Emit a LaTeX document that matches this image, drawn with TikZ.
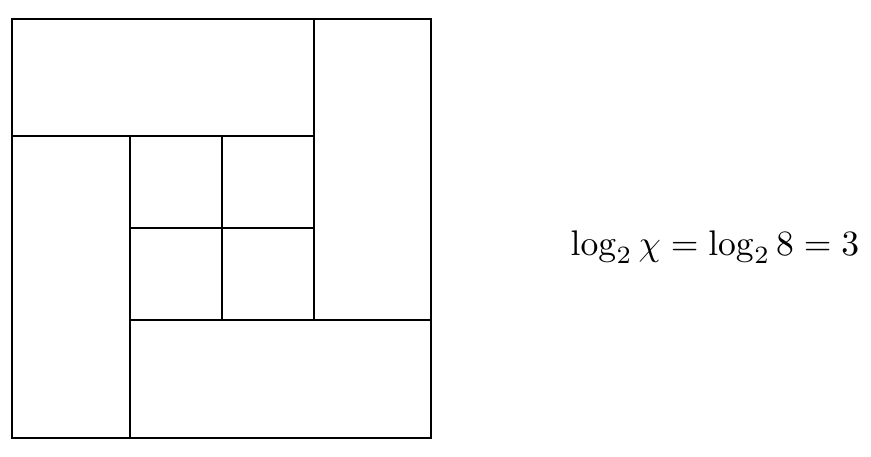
\documentclass[tikz,border=0pt]{standalone}
\begin{document}
\begin{tikzpicture}[x=1pt,y=-1pt,line width=2pt,
  edge/.style={draw=black,line cap=rect}]
\useasboundingbox (0,0) rectangle (871,456);
\coordinate (tl) at (12,18.5);
\coordinate (br) at (431,438);
\draw[edge] (tl) rectangle (br);
\coordinate (a1) at (12,136);
\coordinate (a2) at (314,136);
\coordinate (b1) at (314,19);
\coordinate (b2) at (314,320);
\coordinate (c1) at (130,136);
\coordinate (c2) at (130,438);
\coordinate (d1) at (130,320);
\coordinate (d2) at (431,320);
\coordinate (e1) at (222,136);
\coordinate (e2) at (222,320);
\coordinate (f1) at (130,228);
\coordinate (f2) at (314,228);
\draw[edge] (a1) -- (a2);
\draw[edge,line width=2.5pt,line cap=butt] (b1) -- (b2);
\draw[edge] (c1) -- (c2);
\draw[edge] (d1) -- (d2);
\draw[edge] (e1) -- (e2);
\draw[edge] (f1) -- (f2);
\node[scale=3.56,text=black] (eq) at (715,247) {$\log_2\chi=\log_2 8=3$};
\end{tikzpicture}
\end{document}
